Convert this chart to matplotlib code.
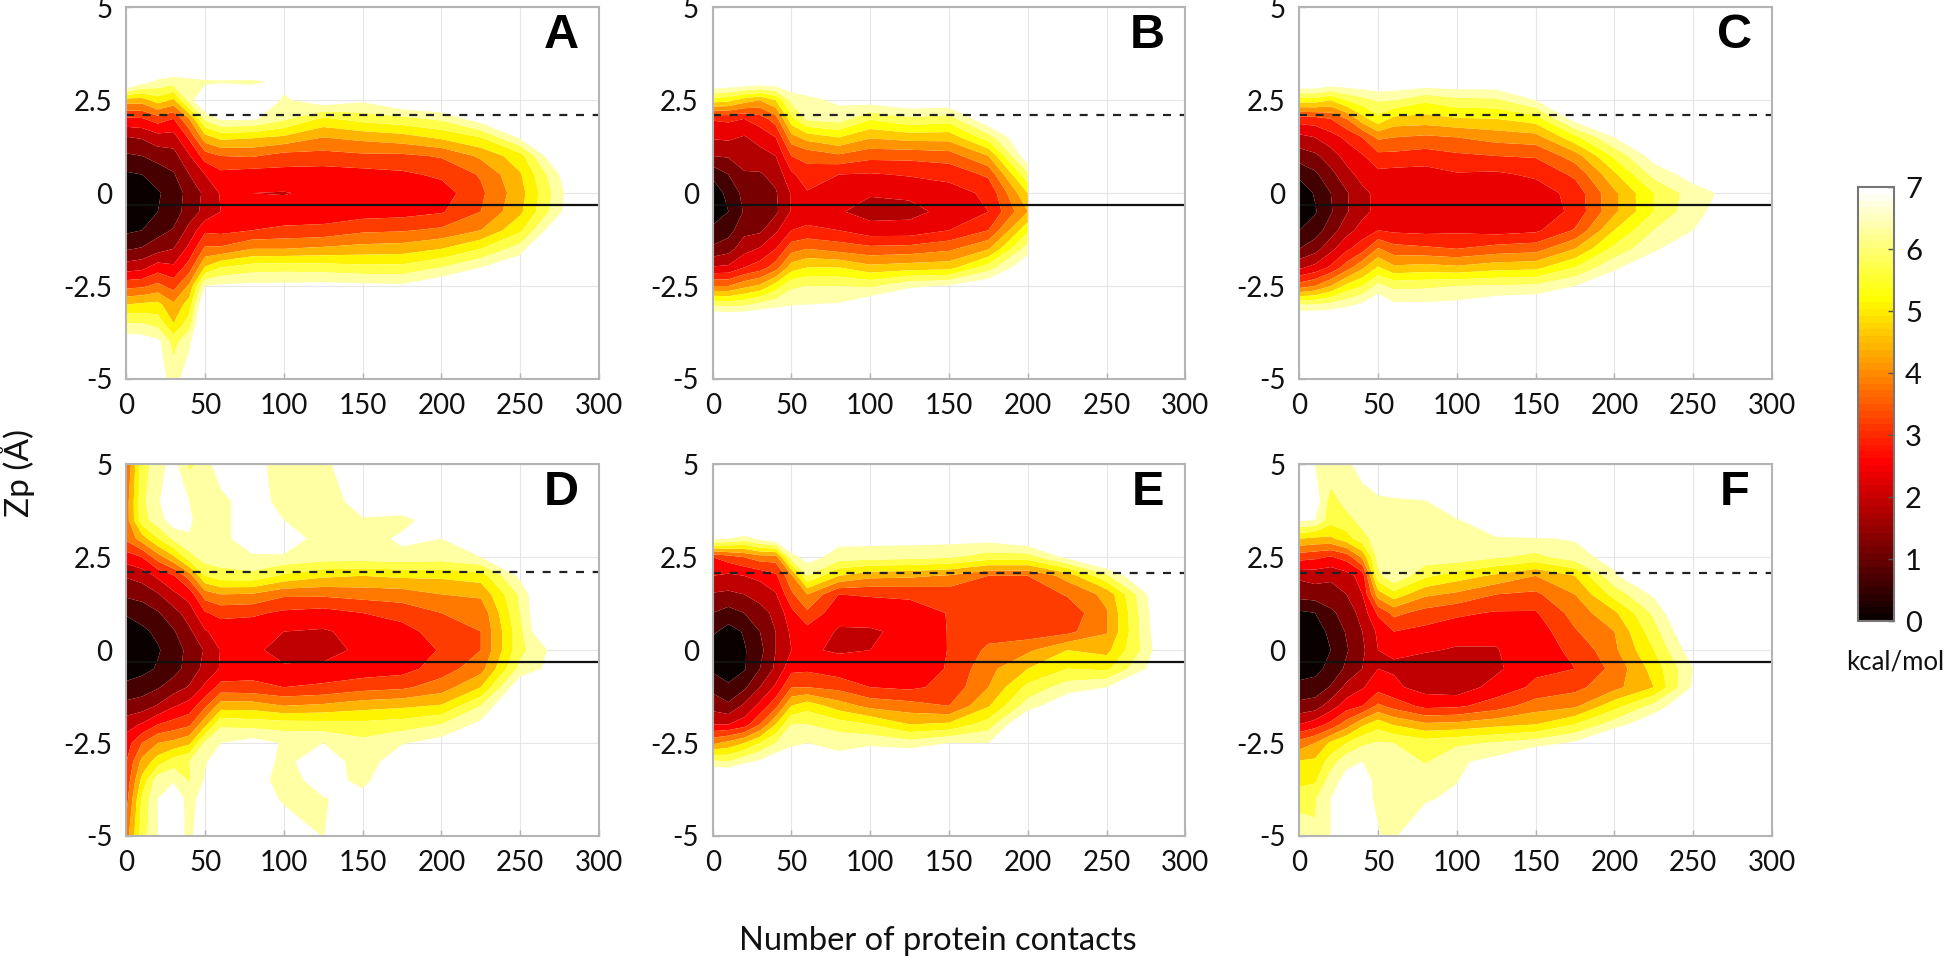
# Free energy maps: Zp against number of protein contacts, six panels
import numpy as np
import matplotlib
matplotlib.use("Agg")
import matplotlib.pyplot as plt
from matplotlib.cm import ScalarMappable
from matplotlib.colors import Normalize

## Data : energy, one list per contact column, from Zp=5 down to Zp=-5
# values are in contour steps (1 step = 7/n kcal/mol, n = number of bands of the panel), o = nothing drawn
o = 14
nan = float("nan")
contacts = [0, 10, 20, 30, 40, 50, 60, 80, 100, 125, 150, 175, 200, 225, 250, 275, 300]
zp = [5, 4, 3.5, 3, 2.5, 2, 1.5, 1, 0.5, 0, -0.5, -1, -1.5, -2, -2.5, -3, -3.5, -4, -5]

E_A = [
    [o, o, o, 13, 7.5, 4.8, 2.95, 1.85, .85, .3, .3, .8, 1.9, 3.5, 5.7, 8, 10, 11.8, o],
    [o, o, o, 11.5, 7.5, 4.9, 3.1, 2, 1, .4, .4, 1, 2.1, 3.7, 5.8, 8.2, 10, 11.6, 13],
    [o, o, 12.5, 10.8, 8.5, 5.5, 3.6, 2.4, 1.4, .9, 1, 1.6, 2.6, 4.5, 6.3, 8.3, 9.6, 11.3, 11.5],
    [o, o, 12.5, 10.5, 7.8, 5, 3.6, 2.6, 1.9, 1.4, 1.5, 2.1, 3, 4.2, 5.6, 7.2, 8, 9.6, 10.6],
    [o, o, 12.5, 10.7, 10.5, 7, 5.2, 3.9, 3, 2.4, 2.5, 3.3, 4.3, 5.5, 7.2, 8.5, 9.5, 10.8, 11.6],
    [o, o, o, 10.7, 12.5, 10.2, 7.6, 5.5, 4, 3.2, 3.3, 4.8, 6.2, 8.1, 11, 12.5, 13, 13, 13],
    [o, o, o, 10.8, 13, 11.2, 8.3, 6, 4.7, 4.1, 4, 4.7, 6.2, 9, 11.2, 12, 13, 13, 13],
    [o, o, o, 10.7, 12.5, 11.2, 8.1, 6.1, 4.5, 4, 4.2, 5, 7, 9.5, 11.3, 13, o, o, o],
    [o, o, o, 11.4, 10.8, 10.2, 7.8, 5.6, 4.6, 3.95, 4.4, 5.2, 7, 9.6, 11.3, 13, o, o, o],
    [o, o, o, o, 11.8, 8.8, 7, 5.6, 4.5, 4.2, 4.4, 5.3, 7.2, 9.5, 11.4, 13, o, o, o],
    [o, o, o, o, 11.2, 9.4, 7.3, 5.8, 4.6, 4.1, 4.5, 5.8, 7.4, 9.3, 11.3, 13, o, o, o],
    [o, o, o, o, 12.3, 9.7, 7.6, 5.8, 4.8, 4.3, 4.6, 5.9, 7.5, 9.3, 11.2, 13, o, o, o],
    [o, o, o, o, 12.5, 10.2, 8.2, 6.1, 5.2, 4.5, 4.9, 6.2, 8, 10, 12, o, o, o, o],
    [o, o, o, o, o, 11.6, 9, 7.2, 6.1, 5.8, 6, 7, 9, 11, 13, o, o, o, o],
    [o, o, o, o, o, 13, 11.2, 8.6, 7.9, 7.6, 7.8, 8.8, 10.5, 12, o, o, o, o, o],
    [o, o, o, o, o, o, o, 12.5, 11, 10.6, 10.8, 12.3, o, o, o, o, o, o, o],
    [o, o, o, o, o, o, o, o, o, o, o, o, o, o, o, o, o, o, o],
]
E_B = [
    [o, o, o, 13.5, 9.5, 5.1, 4.1, 3, 1.2, .4, .5, 1.2, 2.2, 4.1, 7, 10.8, o, o, o],
    [o, o, o, 13.3, 9.3, 5.2, 4.2, 3.1, 2, 1.3, 1, 1.6, 2.6, 4.2, 7, 10.6, o, o, o],
    [o, o, o, 13.2, 8.5, 5, 3.9, 3.4, 2.9, 2.3, 2.1, 2.7, 3.6, 5, 7.7, 10.8, o, o, o],
    [o, o, o, 13, 8, 5.5, 4.4, 3.6, 2.9, 2.4, 2.3, 2.8, 4.1, 5.5, 8.2, 11.3, o, o, o],
    [o, o, o, 13, 9, 6.5, 5, 4, 3.3, 2.9, 2.8, 3.8, 5, 6.5, 9.5, 11.6, o, o, o],
    [o, o, o, 13, 11.3, 9.7, 7.6, 6, 4.8, 4.1, 4.1, 5, 6.6, 8.5, 10.8, 11.9, o, o, o],
    [o, o, o, 13, 11.7, 11.2, 8.4, 6.3, 5.6, 4.9, 4.5, 5.2, 7, 9, 11, 12, o, o, o],
    [o, o, o, 13.5, 12.2, 11.5, 9, 6.8, 5, 4.4, 4.1, 5, 6.6, 9, 11, 12.1, o, o, o],
    [o, o, o, o, 12.6, 10.1, 8.1, 6.3, 4.9, 4.1, 3.6, 4.4, 6.3, 8.3, 10.8, 13, o, o, o],
    [o, o, o, o, 13, 10.8, 8.4, 6.3, 5.1, 4.2, 3.7, 4.4, 6.4, 8.5, 11.8, 13.5, o, o, o],
    [o, o, o, o, 13, 10.5, 8.4, 6.5, 5.3, 4.6, 4.3, 5, 6.8, 8.6, 12.1, 13.5, o, o, o],
    [o, o, o, o, o, 13, 10.5, 8, 6.2, 5.2, 5, 6, 7.9, 10.5, 13, o, o, o, o],
    [o, o, o, o, o, o, 13.5, 12.9, 10.8, 9, 8, 9.8, 11.5, 13, o, o, o, o, o],
    [nan] * 19,
    [nan] * 19,
    [nan] * 19,
    [nan] * 19,
]
E_C = [
    [o, o, o, 13.5, 9.5, 5.5, 3.7, 2.5, 1.2, .4, .3, 1, 2, 3.8, 6.5, 11, o, o, o],
    [o, o, o, 13.5, 9.5, 5.6, 4, 2.8, 1.8, 1.1, .9, 1.5, 2.6, 4.3, 7, 11, o, o, o],
    [o, o, o, 13, 9, 6, 4.6, 3.5, 2.7, 2, 1.9, 2.5, 3.7, 5.2, 8, 11.3, o, o, o],
    [o, o, o, 13, 10, 7, 5.2, 4.4, 3.6, 2.9, 2.9, 3.6, 4.8, 6.5, 9.3, 11.7, o, o, o],
    [o, o, o, 13, 10.6, 8.6, 6, 4.9, 4.4, 3.7, 3.7, 4.4, 5.6, 7.8, 10, 12.2, o, o, o],
    [o, o, o, 13, 11.1, 9.7, 7.2, 5.7, 4.7, 4.3, 4.3, 5, 7.1, 9.1, 11.3, 13, o, o, o],
    [o, o, o, 13, 11, 8.7, 7, 5.7, 4.6, 4.2, 4.2, 4.8, 6.4, 8.2, 10.7, 12.2, o, o, o],
    [o, o, o, 12.9, 10.2, 8.6, 6.8, 5.5, 4.6, 4.1, 4, 4.7, 6.2, 8.4, 10.8, 12.2, o, o, o],
    [o, o, o, 12.9, 10.7, 8.9, 7, 5.8, 4.9, 4.2, 4, 4.8, 6, 8.2, 11, 12.3, o, o, o],
    [o, o, o, 12.9, 10.8, 9, 7.4, 6, 4.8, 4.3, 4.1, 4.6, 6.4, 8.6, 11.1, 12.8, o, o, o],
    [o, o, o, o, 12, 9.5, 7.6, 6.1, 5.2, 4.4, 4.2, 4.8, 6.6, 8.7, 11.2, 13, o, o, o],
    [o, o, o, o, o, 12.5, 9.7, 7.5, 6.2, 5.4, 5.3, 6.1, 8, 10, 12, 13, o, o, o],
    [o, o, o, o, o, 13, 12, 10.2, 8.8, 7.8, 7.8, 9, 10.3, 11.8, 13, o, o, o, o],
    [o, o, o, o, o, o, o, 12.5, 11.3, 10, 10, 11, 11.8, 13, o, o, o, o, o],
    [o, o, o, o, o, o, o, o, 12.5, 11.5, 11.7, 12, 13, o, o, o, o, o, o],
    [o, o, o, o, o, o, o, o, o, 12.4, 12.6, o, o, o, o, o, o, o, o],
    [o, o, o, o, o, o, o, o, o, o, o, o, o, o, o, o, o, o, o],
]
E_D = [
    [6, 6.5, 6.5, 6.2, 4.5, 3.1, 2.2, 1.1, .5, .2, .4, 1.3, 2.3, 3.6, 4.5, 5, 5.3, 5.6, 6.5],
    [9.5, 9.7, 9.6, 7.5, 5, 3.4, 2.4, 1.4, .8, .5, .7, 1.5, 2.5, 4.1, 6, 7.3, 8.3, 9.2, 9.5],
    [10.6, 10.9, 10.5, 9, 6.5, 4.2, 2.9, 1.9, 1.2, .9, 1.1, 1.9, 3.1, 5, 7, 8.5, 10.6, 11, 11],
    [11.4, 11.7, 11.6, 10.2, 7.8, 4.9, 3.8, 2.6, 1.9, 1.5, 1.6, 2.5, 3.9, 5.4, 7.3, 9.5, 10.9, 11.6, 11.7],
    [9.8, 11, 11.2, 10.9, 9.6, 6.5, 4.4, 3.5, 2.8, 2.3, 2.4, 3.1, 4.4, 5.8, 7.8, 10, 9.9, 10.7, 10.7],
    [10.3, 10.3, 10.3, 10.3, 10.5, 9, 6.5, 4.9, 3.9, 3.1, 3.3, 4.2, 5.8, 7.7, 10.2, 10.9, 11.1, 11.4, 12],
    [12, 10.5, 10.5, 10.5, 10.5, 9.6, 7, 5.3, 4.4, 4.05, 4.1, 5.4, 7.5, 9.8, 11, 11.6, 12, 12, 12],
    [11.5, 12, 12, 12, 10.8, 9.7, 6.9, 5.2, 4.3, 4.3, 4.5, 5.3, 7.5, 9.6, 11.5, 12, 12, 12, 12],
    [10.4, 10.3, 11, 12, 10.8, 8.8, 6.2, 4.8, 4, 3.5, 4.2, 5, 7, 9.5, 10.9, 10.6, 10.2, 10.8, 12],
    [10.6, 10.3, 10.3, 10.3, 10.5, 8.2, 6.2, 4.6, 3.9, 3.5, 4.3, 5.2, 7.2, 9.4, 11, 12, 11.8, 10.9, 10.95],
    [12.5, 11.6, 10.9, 10.3, 10.5, 8, 6.4, 5, 4.3, 4.3, 4.4, 5.6, 7.6, 9.3, 10.3, 10.2, 10.5, 11.6, 13],
    [o, 12.5, 10.5, 11.3, 10.6, 8.2, 6.5, 5.4, 4.6, 4.3, 4.6, 5.8, 7.8, 9.5, 10.9, 12, 13, o, o],
    [o, o, 12, 11, 10.5, 8.2, 7, 6, 5.5, 5.1, 5.5, 6.5, 8.1, 10, 11.5, 13, o, o, o],
    [o, o, o, 13, 11, 8.5, 7.2, 6.3, 6, 6, 6.6, 8, 10, 11.3, 13, o, o, o, o],
    [o, o, o, o, 12.5, 11.3, 10.2, 10, 9.7, 9.7, 10.3, 12, 13, o, o, o, o, o, o],
    [o, o, o, o, o, o, o, o, o, 11.6, 11.6, o, o, o, o, o, o, o, o],
    [o, o, o, o, o, o, o, o, o, o, o, o, o, o, o, o, o, o, o],
]
E_E = [
    [o, o, 14, 11.3, 5, 4, 2.9, 2, 1.2, .3, .8, 1.7, 2.6, 4, 6.8, 10.2, 13, o, o],
    [o, o, 14, 11, 5.5, 3.8, 2.8, 1.6, .6, .2, .4, 1.2, 2.2, 4, 7.3, 10, 13, o, o],
    [o, o, 14, 10.5, 6, 4, 3, 2, 1.1, .9, .9, 1.8, 3.2, 4.5, 8, 10.7, o, o, o],
    [o, o, 14, 11.3, 6.5, 4.3, 3.3, 2.7, 2, 1.7, 2, 3, 4.3, 6, 9, 11.2, o, o, o],
    [o, o, 14, 12, 6.5, 4.8, 3.9, 3.2, 3, 3, 3.2, 4.2, 5.7, 8, 10, 11.9, o, o, o],
    [o, o, o, 12.8, 10.5, 6.8, 5.8, 4.7, 4.2, 4, 4.7, 6, 8, 10, 10.8, 11.8, o, o, o],
    [o, o, o, 13, 11.5, 10, 7, 5.8, 4.6, 4.1, 4.8, 6, 8.6, 10, 11, 12, o, o, o],
    [o, o, o, 11.4, 10.5, 8, 5, 4.3, 3.9, 3.9, 4.4, 5.7, 7.5, 9.5, 10.7, 11.4, o, o, o],
    [o, o, o, 11.4, 10.4, 7.3, 5.1, 4.4, 3.9, 4, 4.3, 5, 6.7, 9, 10.8, 12, o, o, o],
    [o, o, o, 11.4, 10.3, 7.2, 5.2, 4.5, 4.2, 4.1, 4.3, 4.8, 6.4, 8, 10.4, 12.5, o, o, o],
    [o, o, o, 11.4, 10.1, 6.9, 5.4, 5.05, 5.05, 5.05, 5.1, 5.3, 6, 8.2, 11, 13, o, o, o],
    [o, o, o, 11.4, 9.5, 6, 5.5, 5.2, 5.6, 6.2, 6.7, 7, 7.9, 9.5, 11, 13, o, o, o],
    [o, o, o, 12, 9.5, 6, 5.3, 5.3, 5.4, 6.8, 8, 9.3, 10.5, 12.5, o, o, o, o, o],
    [o, o, o, o, 11.3, 7.4, 6.1, 5.3, 5.7, 8, 9, 10.5, 12, o, o, o, o, o, o],
    [o, o, o, o, 13, 9.8, 7.3, 6.9, 6.9, 7.7, 8.8, 11, 13, o, o, o, o, o, o],
    [o, o, o, o, o, 12.5, 10.9, 10.7, 10.6, 10.4, 11, 13, o, o, o, o, o, o, o],
    [o, o, o, o, o, o, o, o, o, o, o, o, o, o, o, o, o, o, o],
]
E_F = [
    [12, 12, 11.2, 8, 5.4, 3.2, 2.4, .8, .4, .2, .5, 1.3, 2.3, 4, 6.4, 8.1, 8.7, 9.5, 10.8],
    [11, 11.7, 11, 7.8, 5.2, 3.4, 2.5, 1, .6, .4, .7, 1.4, 2.5, 4.5, 7, 8.2, 8.8, 9.9, 10.1],
    [10.8, 9.5, 9.4, 7.8, 4.9, 3.2, 2.6, 1.8, 1.2, 1, 1.3, 2.1, 3.5, 5.3, 8.2, 9.5, 10.5, 11, 11],
    [10.8, 10.4, 9.6, 8.6, 5.4, 3.6, 3, 2.4, 2.1, 1.9, 2.2, 3.3, 4.5, 6.5, 9, 10.7, 11.4, 11.7, 11.9],
    [11.4, 10.6, 10.4, 9.6, 7.2, 4.4, 4, 3.4, 3, 2.8, 3, 3.9, 5, 7.8, 9.8, 11, 11.3, 11.2, 11.1],
    [12.5, 10.7, 10.7, 10.5, 10.4, 9.7, 7.5, 5.2, 4.2, 4, 4, 4.6, 6.2, 8.6, 10.1, 10.9, 10.8, 10.9, 11.05],
    [o, 10.7, 10.7, 10.6, 10.4, 10.9, 8.6, 6.3, 5, 4.1, 3.9, 4.2, 5.6, 7.9, 10, 10.7, 10.7, 10.7, 10.8],
    [o, 10.9, 10.7, 10.8, 10.6, 9.2, 7.2, 5.6, 4.7, 4.1, 3.4, 3.6, 4.7, 7.2, 9.5, 9.9, 10.8, 10.8, 12.5],
    [o, 12.5, 10.9, 10.7, 10.6, 8.5, 6.8, 5.2, 4.4, 3.9, 3.1, 3.4, 4.8, 7.3, 9.8, 10.8, 10.9, 11.4, o],
    [o, o, 12, 10.9, 10.1, 7.8, 6, 4.9, 4.2, 3.95, 3.8, 4.4, 5.5, 7.7, 10.1, 11.4, 13, o, o],
    [o, o, o, 10.9, 9.7, 7, 5.8, 4.9, 4.4, 4.6, 4.8, 5.2, 6.5, 8, 10.5, 13, o, o, o],
    [o, o, o, 11.1, 10.5, 8, 7, 6.4, 5.9, 5.2, 5, 5.7, 6.8, 9, 11.2, 13, o, o, o],
    [o, o, o, 13, 11.5, 10.8, 9.4, 7.8, 7, 6.8, 6.3, 6.7, 8.6, 10.5, 13, o, o, o, o],
    [o, o, o, o, o, 13, 11.2, 10.2, 9.6, 9, 8.4, 8, 10.3, 12, o, o, o, o, o],
    [o, o, o, o, o, o, o, 13, 12.3, 11.7, 11, 11.2, 12.3, o, o, o, o, o, o],
    [o, o, o, o, o, o, o, o, o, o, 13, 13, o, o, o, o, o, o, o],
    [o, o, o, o, o, o, o, o, o, o, o, o, o, o, o, o, o, o, o],
]

letters = ["A", "B", "C", "D", "E", "F"]
fields = [E_A, E_B, E_C, E_D, E_E, E_F]
n_bands = [11, 12, 12, 11, 11, 11]
z_dashed = [2.1, 2.1, 2.1, 2.1, 2.08, 2.08]
z_solid = [-0.32, -0.32, -0.32, -0.32, -0.32, -0.32]
xticks = [0, 50, 100, 150, 200, 250, 300]
yticks = [-5, -2.5, 0, 2.5, 5]
yticklabels = ["-5", "-2.5", "0", "2.5", "5"]
cbar_ticks = [0, 1, 2, 3, 4, 5, 6, 7]

## Figure
W, H = 1946, 959
plt.rcParams["font.family"] = ["Lato", "DejaVu Sans"]
fig = plt.figure(figsize=(W / 100, H / 100), dpi=100)
GREY = "#b4b4b4"


def axes_px(x0, y0, x1, y1):
    return fig.add_axes([x0 / W, 1 - y1 / H, (x1 - x0) / W, (y1 - y0) / H])


lefts = [126.3, 712.7, 1299.3]
tops = [7.3, 464.3]
for i, letter in enumerate(letters):
    x0 = lefts[i % 3]
    y0 = tops[i // 3]
    ax = axes_px(x0, y0, x0 + 472.7, y0 + 371.6)
    n = n_bands[i]
    energy = np.array(fields[i], dtype=float).T * 7 / n
    levels = np.linspace(0, 7, n + 1)
    colors = [plt.cm.hot(k / n) for k in range(n)]
    ax.contourf(contacts, zp, energy, levels=levels, colors=colors, antialiased=True)
    ax.axhline(z_dashed[i], color="#222222", lw=1.6, linestyle=(0, (3.6, 3.9)))
    ax.axhline(z_solid[i], color="#111111", lw=1.6)
    ax.set_xlim(0, 300)
    ax.set_ylim(-5, 5)
    ax.set_xticks(xticks)
    ax.set_yticks(yticks)
    ax.set_yticklabels(yticklabels)
    ax.grid(color="#e6e6e6", lw=0.8)
    ax.set_axisbelow(True)
    ax.tick_params(direction="in", length=4, width=1, color=GREY, labelsize=20, pad=10, labelcolor="#111111")
    for sp in ax.spines.values():
        sp.set_color(GREY)
        sp.set_linewidth(1.5)
    ax.text(0.92, 0.925, letter, transform=ax.transAxes, ha="center", va="center",
            family="Liberation Sans", weight="bold", fontsize=35, color="black")

fig.text(17 / W, 1 - 473 / H, "Zp (Å)", rotation=90, ha="center", va="center", fontsize=24, color="#111111")
fig.text(938 / W, 1 - 941 / H, "Number of protein contacts", ha="center", va="center", fontsize=23.5, color="#111111")

## Colorbar
cax = axes_px(1858, 187, 1894, 621)
cb = fig.colorbar(ScalarMappable(Normalize(0, 7), cmap=plt.get_cmap("hot", 64)), cax=cax)
cb.set_ticks(cbar_ticks)
cb.ax.tick_params(direction="in", length=4, width=1, color="#555555", labelsize=21, pad=8, labelcolor="#111111")
cb.outline.set_edgecolor("#777777")
cb.outline.set_linewidth(1.5)
fig.text(1895 / W, 1 - 662 / H, "kcal/mol", ha="center", va="center", fontsize=18.5, color="#111111")

fig.savefig("out.png", dpi=100)
